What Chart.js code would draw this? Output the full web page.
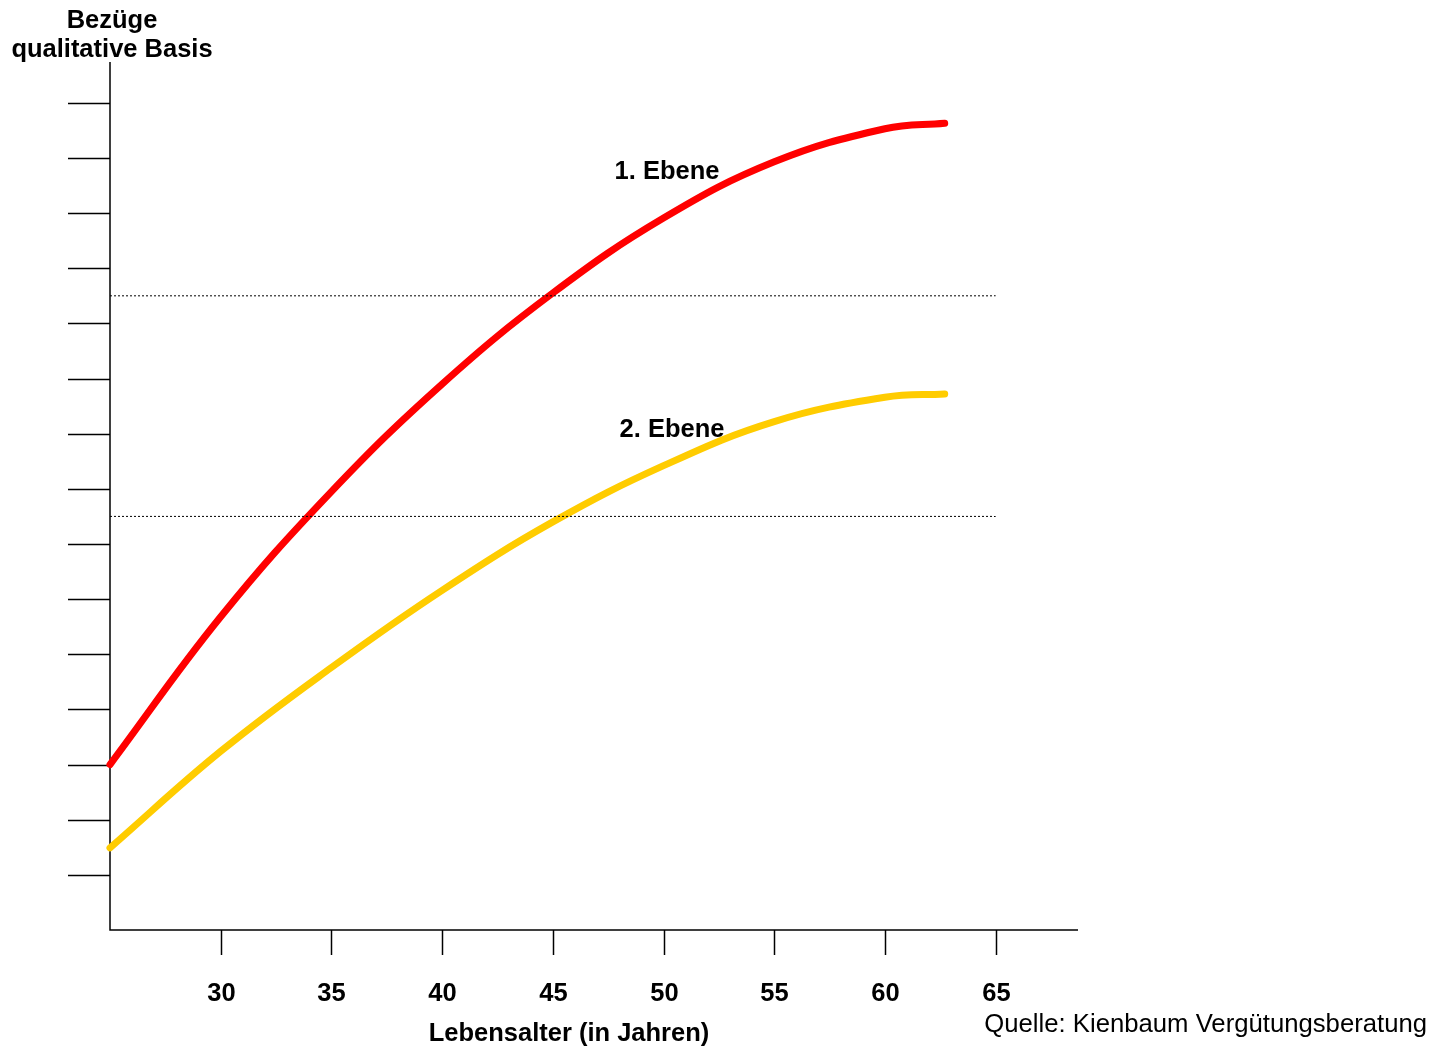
<!DOCTYPE html>
<html>
<head>
<meta charset="utf-8">
<script src="https://cdn.jsdelivr.net/npm/chart.js@4/dist/chart.umd.min.js"></script>
<style>
  body { margin: 0; background: #fff; }
  #wrap { width: 1433px; height: 1047px; }
</style>
</head>
<body>
<div id="wrap"><canvas id="myChart" width="1433" height="1047"></canvas></div>
<script>
// Lebensalter (Jahre) und Bezüge je Ebene
const alter = [25, 30, 35, 40, 45, 50, 55, 60, 62.7];
const ebene1 = [3.0, 5.68, 7.95, 9.90, 11.55, 12.91, 13.93, 14.53, 14.63];
const ebene2 = [1.49, 3.24, 4.76, 6.16, 7.40, 8.42, 9.22, 9.66, 9.72];
const xTicks = [30, 35, 40, 45, 50, 55, 60, 65];
const yTicks = [1, 2, 3, 4, 5, 6, 7, 8, 9, 10, 11, 12, 13, 14, 15];
const bandLines = [7.5, 11.5];
const bandRange = [25, 65];

const FONT = '"Liberation Sans", Arial, sans-serif';

const toPoints = (xs, ys) => xs.map((x, i) => ({ x: x, y: ys[i] }));

// Achsen, Striche und Beschriftungen selbst zeichnen (wie im Original)
const axesPlugin = {
  id: 'axesPlugin',
  beforeDatasetsDraw(chart) {
    const { ctx, chartArea, scales } = chart;
    const x = scales.x;
    const y = scales.y;
    ctx.save();
    ctx.strokeStyle = '#000';
    ctx.lineWidth = 1.5;
    ctx.beginPath();
    ctx.moveTo(chartArea.left, chartArea.top);
    ctx.lineTo(chartArea.left, chartArea.bottom);
    ctx.lineTo(chartArea.right, chartArea.bottom);
    ctx.stroke();

    yTicks.forEach((v) => {
      const py = Math.round(y.getPixelForValue(v)) + 0.5;
      ctx.beginPath();
      ctx.moveTo(chartArea.left - 42, py);
      ctx.lineTo(chartArea.left, py);
      ctx.stroke();
    });

    ctx.fillStyle = '#000';
    ctx.font = 'bold 25.5px ' + FONT;
    ctx.textAlign = 'center';
    ctx.textBaseline = 'alphabetic';
    xTicks.forEach((v) => {
      const px = Math.round(x.getPixelForValue(v)) + 0.5;
      ctx.beginPath();
      ctx.moveTo(px, chartArea.bottom);
      ctx.lineTo(px, chartArea.bottom + 25);
      ctx.stroke();
      ctx.fillText(String(v), px, 1001);
    });

    ctx.fillText('Bezüge', 112, 28);
    ctx.fillText('qualitative Basis', 112, 57);
    ctx.fillText('Lebensalter (in Jahren)', 569, 1041);

    ctx.font = '25.7px ' + FONT;
    ctx.textAlign = 'right';
    ctx.fillText('Quelle: Kienbaum Vergütungsberatung', 1427, 1032);
    ctx.restore();
  },
  afterDatasetsDraw(chart) {
    const { ctx } = chart;
    ctx.save();
    ctx.fillStyle = '#000';
    ctx.font = 'bold 25.5px ' + FONT;
    ctx.textAlign = 'center';
    ctx.fillText('1. Ebene', 667, 179);
    ctx.fillText('2. Ebene', 672, 437);
    ctx.restore();
  },
};

const ctx = document.getElementById('myChart');

new Chart(ctx, {
  type: 'line',
  data: {
    datasets: [
      {
        label: 'Linie 11,5',
        data: bandRange.map((x) => ({ x: x, y: bandLines[1] })),
        borderColor: '#000',
        borderWidth: 1,
        borderDash: [2, 2],
        pointRadius: 0,
      },
      {
        label: 'Linie 7,5',
        data: bandRange.map((x) => ({ x: x, y: bandLines[0] })),
        borderColor: '#000',
        borderWidth: 1,
        borderDash: [2, 2],
        pointRadius: 0,
      },
      {
        label: '2. Ebene',
        data: toPoints(alter, ebene2),
        borderColor: '#ffcc00',
        borderWidth: 7,
        borderCapStyle: 'round',
        tension: 0.4,
        pointRadius: 0,
        clip: false,
      },
      {
        label: '1. Ebene',
        data: toPoints(alter, ebene1),
        borderColor: '#ff0000',
        borderWidth: 7,
        borderCapStyle: 'round',
        tension: 0.4,
        pointRadius: 0,
        clip: false,
      },
    ],
  },
  options: {
    responsive: false,
    animation: false,
    layout: {
      padding: { left: 110, right: 355, top: 62, bottom: 117 },
    },
    plugins: {
      legend: { display: false },
      tooltip: { enabled: false },
    },
    scales: {
      x: { type: 'linear', display: false, min: 25, max: 68.72 },
      y: { type: 'linear', display: false, min: 0, max: 15.74 },
    },
  },
  plugins: [axesPlugin],
});
</script>
</body>
</html>
